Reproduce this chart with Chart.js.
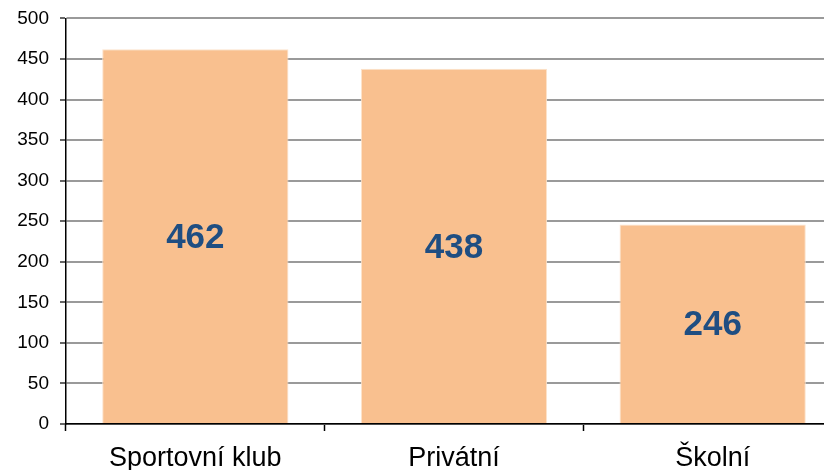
<!DOCTYPE html>
<html>
<head>
<meta charset="utf-8">
<script src="https://cdn.jsdelivr.net/npm/chart.js@4/dist/chart.umd.min.js"></script>
<style>
  html, body { margin: 0; padding: 0; background: #fff; overflow: hidden; }
  #wrap { width: 842px; height: 474px; margin-top: -4px; }
</style>
</head>
<body>
<div id="wrap"><canvas id="chart" width="842" height="474"></canvas></div>
<script>
// data
var categories = ['Sportovní klub', 'Privátní', 'Školní'];
var values = [462, 438, 246];
var yTicks = [0, 50, 100, 150, 200, 250, 300, 350, 400, 450, 500];

// draw the value in the middle of every bar
var barValues = {
	id: 'barValues',
	afterDatasetsDraw: function(chart) {
		var ctx = chart.ctx;
		var meta = chart.getDatasetMeta(0);
		ctx.save();
		ctx.font = 'bold 35px "Liberation Sans", Arial, sans-serif';
		ctx.fillStyle = '#1F4E82';
		ctx.textAlign = 'center';
		ctx.textBaseline = 'middle';
		meta.data.forEach(function(bar, i) {
			var mid = (bar.y + bar.base) / 2;
			ctx.fillText(String(values[i]), bar.x, mid + 2);
		});
		ctx.restore();
	}
};

new Chart(document.getElementById('chart'), {
	type: 'bar',
	data: {
		labels: categories,
		datasets: [{
			data: values,
			backgroundColor: '#F9C08F',
			borderColor: '#FCE3CC',
			borderWidth: 1,
			categoryPercentage: 0.72,
			barPercentage: 1
		}]
	},
	options: {
		responsive: false,
		animation: false,
		layout: { padding: { top: 14, right: 0, left: 0, bottom: 0 } },
		plugins: {
			legend: { display: false },
			tooltip: { enabled: false }
		},
		scales: {
			x: {
				offset: true,
				grid: {
					offset: true,
					drawOnChartArea: false,
					tickLength: 7,
					tickColor: '#000',
					tickWidth: 1.5
				},
				border: { color: '#000', width: 1.5 },
				ticks: {
					color: '#000',
					font: { family: '"Liberation Sans", Arial, sans-serif', size: 27 },
					padding: 11
				},
				afterFit: function(scale) { scale.height = 46; }
			},
			y: {
				min: 0,
				max: 500,
				afterBuildTicks: function(scale) {
					scale.ticks = yTicks.map(function(v) { return { value: v }; });
				},
				grid: {
					color: '#9A9A9A',
					lineWidth: 2,
					tickLength: 6,
					tickColor: '#333',
					tickWidth: 1.5
				},
				border: { color: '#000', width: 1.5 },
				ticks: {
					color: '#000',
					font: { family: '"Liberation Sans", Arial, sans-serif', size: 19 },
					padding: 11
				},
				afterFit: function(scale) { scale.width = 66; }
			}
		}
	},
	plugins: [barValues]
});
</script>
</body>
</html>
